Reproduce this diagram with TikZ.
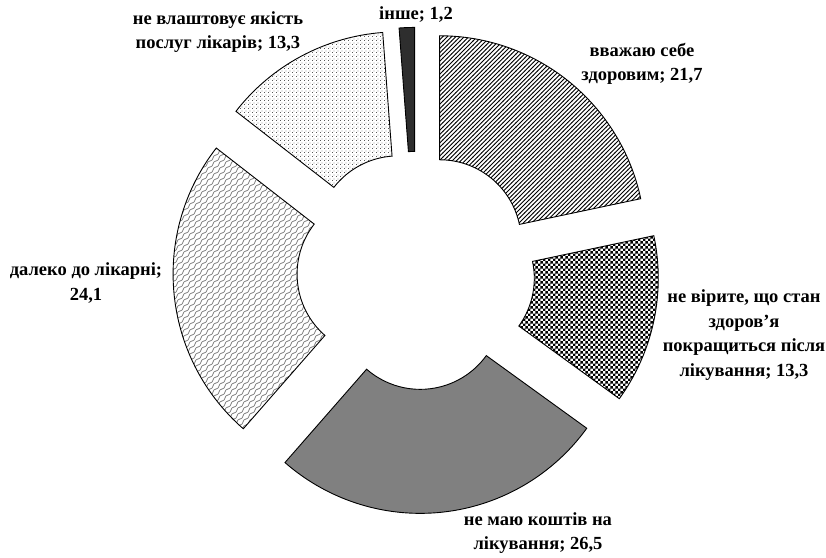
\documentclass[tikz,border=0pt]{standalone}
\usepackage{fontspec}
\setmainfont{Liberation Serif}
\usetikzlibrary{calc, patterns, positioning}

% візерунки секторів
\pgfdeclarepatternformonly{hatchne}{\pgfqpoint{-1pt}{-1pt}}{\pgfqpoint{5pt}{5pt}}{\pgfqpoint{4.3pt}{4.3pt}}{%
  \pgfsetlinewidth{0.9pt}%
  \pgfpathmoveto{\pgfqpoint{-0.2pt}{-0.2pt}}%
  \pgfpathlineto{\pgfqpoint{4.5pt}{4.5pt}}%
  \pgfusepath{stroke}}
\pgfdeclarepatternformonly{checker}{\pgfqpoint{0pt}{0pt}}{\pgfqpoint{5.4pt}{5.4pt}}{\pgfqpoint{5.4pt}{5.4pt}}{%
  \pgfpathrectangle{\pgfqpoint{0pt}{0pt}}{\pgfqpoint{2.7pt}{2.7pt}}%
  \pgfpathrectangle{\pgfqpoint{2.7pt}{2.7pt}}{\pgfqpoint{2.7pt}{2.7pt}}%
  \pgfusepath{fill}}
\pgfdeclarepatternformonly{shingle}{\pgfqpoint{-1pt}{-1pt}}{\pgfqpoint{7pt}{7pt}}{\pgfqpoint{6pt}{6pt}}{%
  \pgfsetlinewidth{0.7pt}%
  \pgfpathmoveto{\pgfqpoint{0pt}{0pt}}%
  \pgfpathcurveto{\pgfqpoint{4pt}{0pt}}{\pgfqpoint{2pt}{6pt}}{\pgfqpoint{6pt}{6pt}}%
  \pgfusepath{stroke}}
\pgfdeclarepatternformonly{sparsedots}{\pgfqpoint{0pt}{0pt}}{\pgfqpoint{4pt}{4pt}}{\pgfqpoint{4pt}{4pt}}{%
  \pgfpathrectangle{\pgfqpoint{0pt}{0pt}}{\pgfqpoint{1pt}{1pt}}%
  \pgfpathrectangle{\pgfqpoint{2pt}{2pt}}{\pgfqpoint{1pt}{1pt}}%
  \pgfusepath{fill}}

\tikzset{
  slicebase/.style={draw=black, line width=0.9pt, line join=miter},
  sl1/.style={slicebase, pattern=hatchne},
  sl2/.style={slicebase, pattern=checker},
  sl3/.style={slicebase, fill=black!50},
  sl4/.style={slicebase, pattern=shingle, pattern color=black!55},
  sl5/.style={slicebase, pattern=sparsedots, pattern color=black!65},
  sl6/.style={slicebase, fill=black!82},
  lbl/.style={font=\bfseries\fontsize{18.5}{24.5}\selectfont, align=center, inner sep=0pt}
}

\begin{document}
\begin{tikzpicture}[x=1pt, y=1pt]
    \useasboundingbox (0,0) rectangle (826,557);

    % центр кільця, радіуси та винесення секторів
    \coordinate (c) at (416,286.5);
    \def\rout{205.5}
    \def\rin{81.5}
    \def\dd{37.6}

    % 1. Сектори (кути від 12 години за годинниковою стрілкою)
    \foreach \a/\b/\s [count=\i] in {90/11.96/sl1, 11.96/-35.87/sl2, -35.87/-131.17/sl3,
                                     -131.17/-217.84/sl4, -217.84/-265.67/sl5, -265.67/-270/sl6} {
        \pgfmathsetmacro\m{(\a+\b)/2}
        \coordinate (o\i) at ($(c)+(\m:\dd pt)$);
        \draw[\s] ($(o\i)+(\a:\rout pt)$) arc[start angle=\a, end angle=\b, radius=\rout pt]
            -- ($(o\i)+(\b:\rin pt)$) arc[start angle=\b, end angle=\a, radius=\rin pt] -- cycle;
    }

    % 2. Підписи секторів
    \node[lbl] (lbl_healthy) at (642,493) {вважаю себе\\здоровим; 21,7};
    \node[lbl] (lbl_belief) at (744,222) {не вірите, що стан\\здоров’я\\покращиться після\\лікування; 13,3};
    \node[lbl] (lbl_money) at (538,24) {не маю коштів на\\лікування; 26,5};
    \node[lbl] (lbl_far) at (86,274) {далеко до лікарні;\\24,1};
    \node[lbl] (lbl_quality) at (218,525) {не влаштовує якість\\послуг лікарів; 13,3};
    \node[lbl] (lbl_other) at (416,542) {інше; 1,2};

\end{tikzpicture}
\end{document}
